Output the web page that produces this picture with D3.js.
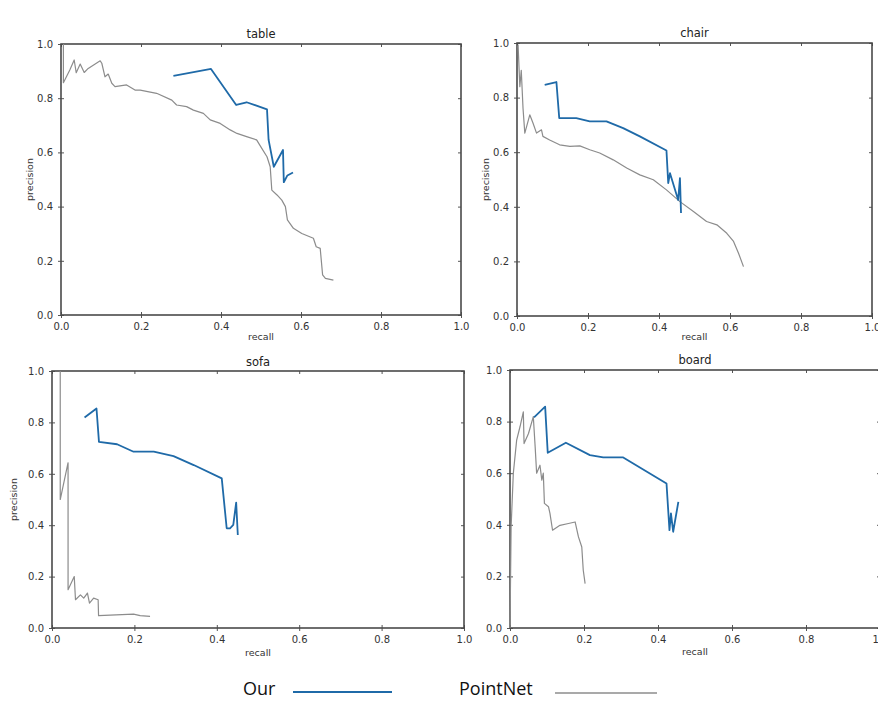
<!DOCTYPE html>
<html>
<head>
<meta charset="utf-8">
<script src="https://cdn.jsdelivr.net/npm/d3@7"></script>
<style>
  html, body { margin: 0; padding: 0; background: #fff; }
  svg { display: block; }
</style>
</head>
<body>
<svg id="chart" width="878" height="702"></svg>
<script>
// ---------------- DATA ----------------
const categories = ["table", "chair", "sofa", "board"];
const tickValues = [0, 0.2, 0.4, 0.6, 0.8, 1.0];
const seriesNames = ["Our", "PointNet"];

// [recall, precision]
const tableOur = [[0.281,0.882],[0.375,0.908],[0.438,0.775],[0.464,0.785],[0.515,0.759],[0.519,0.646],[0.532,0.547],[0.555,0.609],[0.557,0.490],[0.566,0.515],[0.580,0.526]];
const tablePointNet = [[0.006,1.0],[0.006,0.857],[0.022,0.904],[0.033,0.941],[0.038,0.894],[0.048,0.926],[0.058,0.895],[0.068,0.910],[0.098,0.938],[0.102,0.929],[0.110,0.879],[0.118,0.889],[0.127,0.855],[0.135,0.843],[0.164,0.849],[0.185,0.830],[0.198,0.830],[0.239,0.818],[0.277,0.793],[0.289,0.775],[0.314,0.769],[0.331,0.756],[0.356,0.744],[0.373,0.720],[0.398,0.707],[0.423,0.683],[0.440,0.670],[0.464,0.658],[0.489,0.646],[0.502,0.615],[0.515,0.584],[0.523,0.547],[0.527,0.461],[0.540,0.443],[0.552,0.424],[0.561,0.400],[0.566,0.351],[0.581,0.320],[0.602,0.301],[0.631,0.283],[0.638,0.252],[0.648,0.246],[0.654,0.148],[0.661,0.135],[0.681,0.129]];

const chairOur = [[0.078,0.847],[0.111,0.857],[0.119,0.725],[0.167,0.725],[0.205,0.713],[0.252,0.713],[0.299,0.688],[0.346,0.658],[0.421,0.606],[0.426,0.487],[0.431,0.523],[0.454,0.425],[0.459,0.505],[0.462,0.377]];
const chairPointNet = [[0.003,0.994],[0.008,0.840],[0.012,0.900],[0.017,0.760],[0.022,0.670],[0.036,0.737],[0.045,0.707],[0.055,0.670],[0.069,0.682],[0.073,0.658],[0.092,0.645],[0.120,0.627],[0.149,0.621],[0.177,0.623],[0.205,0.609],[0.233,0.597],[0.271,0.572],[0.309,0.542],[0.346,0.517],[0.384,0.499],[0.421,0.462],[0.459,0.419],[0.497,0.383],[0.534,0.346],[0.563,0.334],[0.591,0.303],[0.610,0.273],[0.624,0.230],[0.638,0.181]];

const sofaOur = [[0.079,0.819],[0.108,0.854],[0.114,0.724],[0.158,0.715],[0.198,0.686],[0.247,0.686],[0.295,0.669],[0.344,0.634],[0.412,0.582],[0.424,0.388],[0.432,0.388],[0.440,0.401],[0.447,0.488],[0.451,0.362]];
const sofaPointNet = [[0.020,1.0],[0.020,0.500],[0.039,0.643],[0.039,0.149],[0.054,0.200],[0.057,0.110],[0.069,0.129],[0.077,0.116],[0.086,0.136],[0.091,0.097],[0.101,0.116],[0.112,0.110],[0.113,0.048],[0.198,0.054],[0.214,0.048],[0.238,0.045]];

const boardOur = [[0.065,0.816],[0.095,0.858],[0.102,0.679],[0.151,0.718],[0.216,0.670],[0.252,0.661],[0.306,0.661],[0.423,0.560],[0.431,0.379],[0.435,0.444],[0.441,0.373],[0.455,0.489]];
const boardPointNet = [[0.000,0.000],[0.003,0.392],[0.009,0.600],[0.018,0.728],[0.027,0.780],[0.036,0.838],[0.038,0.715],[0.050,0.754],[0.063,0.819],[0.068,0.702],[0.072,0.600],[0.081,0.631],[0.086,0.573],[0.090,0.600],[0.093,0.483],[0.104,0.470],[0.108,0.444],[0.115,0.379],[0.135,0.398],[0.158,0.405],[0.176,0.411],[0.185,0.353],[0.194,0.314],[0.198,0.224],[0.203,0.172]];

const ourSeries = [tableOur, chairOur, sofaOur, boardOur];
const pointNetSeries = [tablePointNet, chairPointNet, sofaPointNet, boardPointNet];

// ---------------- LAYOUT ----------------
const panels = [
  {x0: 61,  x1: 461, y0: 44,  y1: 315, titleY: 34,  xlabY: 337, ylabX: 30,  showYLab: true},
  {x0: 517, x1: 872, y0: 43,  y1: 316, titleY: 33,  xlabY: 337, ylabX: 486, showYLab: true},
  {x0: 52,  x1: 464, y0: 371, y1: 628, titleY: 362, xlabY: 653, ylabX: 14,  showYLab: true},
  {x0: 510, x1: 880, y0: 370, y1: 628, titleY: 360, xlabY: 652, ylabX: 470, showYLab: false}
];

const svg = d3.select("#chart");
const OUR_COLOR = "#1f6aa8";
const PN_COLOR = "#8c8c8c";
const FONT = "DejaVu Sans, sans-serif";

panels.forEach((p, i) => {
  const x = d3.scaleLinear().domain([0, 1]).range([p.x0, p.x1]);
  const y = d3.scaleLinear().domain([0, 1]).range([p.y1, p.y0]);
  const g = svg.append("g");

  const xb = g.append("g").attr("transform", `translate(0,${p.y1})`)
    .call(d3.axisBottom(x).tickValues(tickValues).tickFormat(d3.format(".1f")).tickSizeInner(3).tickSizeOuter(0).tickPadding(5));
  const xt = g.append("g").attr("transform", `translate(0,${p.y0})`)
    .call(d3.axisTop(x).tickValues(tickValues).tickFormat("").tickSizeInner(-3).tickSizeOuter(0));
  const yl = g.append("g").attr("transform", `translate(${p.x0},0)`)
    .call(d3.axisLeft(y).tickValues(tickValues).tickFormat(d3.format(".1f")).tickSizeInner(3).tickSizeOuter(0).tickPadding(5));
  const yr = g.append("g").attr("transform", `translate(${p.x1},0)`)
    .call(d3.axisRight(y).tickValues(tickValues).tickFormat("").tickSizeInner(-3).tickSizeOuter(0));
  // bottom/left ticks straddle the spine
  xb.selectAll(".tick line").attr("y1", -3).attr("y2", 3);
  yl.selectAll(".tick line").attr("x1", 3).attr("x2", -3);
  [xb, xt, yl, yr].forEach(a => {
    a.select(".domain").remove();
    a.selectAll(".tick line").attr("stroke", "#555").attr("stroke-width", 1);
    a.selectAll(".tick text").attr("fill", "#333").style("font-family", FONT).style("font-size", "10px");
  });

  g.append("rect").attr("x", p.x0).attr("y", p.y0)
    .attr("width", p.x1 - p.x0).attr("height", p.y1 - p.y0)
    .attr("fill", "none").attr("stroke", "#4a4a4a").attr("stroke-width", 1.6);

  const line = d3.line().x(d => x(d[0])).y(d => y(d[1]));
  g.append("path").datum(pointNetSeries[i]).attr("d", line)
    .attr("fill", "none").attr("stroke", PN_COLOR).attr("stroke-width", 1.2).attr("stroke-linejoin", "round");
  g.append("path").datum(ourSeries[i]).attr("d", line)
    .attr("fill", "none").attr("stroke", OUR_COLOR).attr("stroke-width", 1.8).attr("stroke-linejoin", "round");

  g.append("text").attr("x", (p.x0 + p.x1) / 2).attr("y", p.titleY)
    .attr("text-anchor", "middle").attr("dominant-baseline", "middle")
    .style("font-family", FONT).style("font-size", "11.5px").attr("fill", "#222")
    .text(categories[i]);
  g.append("text").attr("x", (p.x0 + p.x1) / 2).attr("y", p.xlabY)
    .attr("text-anchor", "middle").attr("dominant-baseline", "middle")
    .style("font-family", FONT).style("font-size", "9.5px").attr("fill", "#333")
    .text("recall");
  if (p.showYLab) {
    g.append("text")
      .attr("transform", `translate(${p.ylabX},${(p.y0 + p.y1) / 2}) rotate(-90)`)
      .attr("text-anchor", "middle").attr("dominant-baseline", "middle")
      .style("font-family", FONT).style("font-size", "9.5px").attr("fill", "#333")
      .text("precision");
  }
});

// legend
const legend = svg.append("g");
const legendItems = [
  {name: seriesNames[0], tx: 243, lx0: 293, lx1: 392, ly: 692, color: OUR_COLOR, w: 2},
  {name: seriesNames[1], tx: 459, lx0: 555, lx1: 657, ly: 693, color: PN_COLOR, w: 1.6}
];
legendItems.forEach(it => {
  legend.append("text").attr("x", it.tx).attr("y", 690)
    .attr("dominant-baseline", "middle")
    .style("font-family", "Open Sans, sans-serif").style("font-size", "18px").attr("fill", "#111")
    .text(it.name);
  legend.append("line").attr("x1", it.lx0).attr("x2", it.lx1).attr("y1", it.ly).attr("y2", it.ly)
    .attr("stroke", it.color).attr("stroke-width", it.w);
});
</script>
</body>
</html>
